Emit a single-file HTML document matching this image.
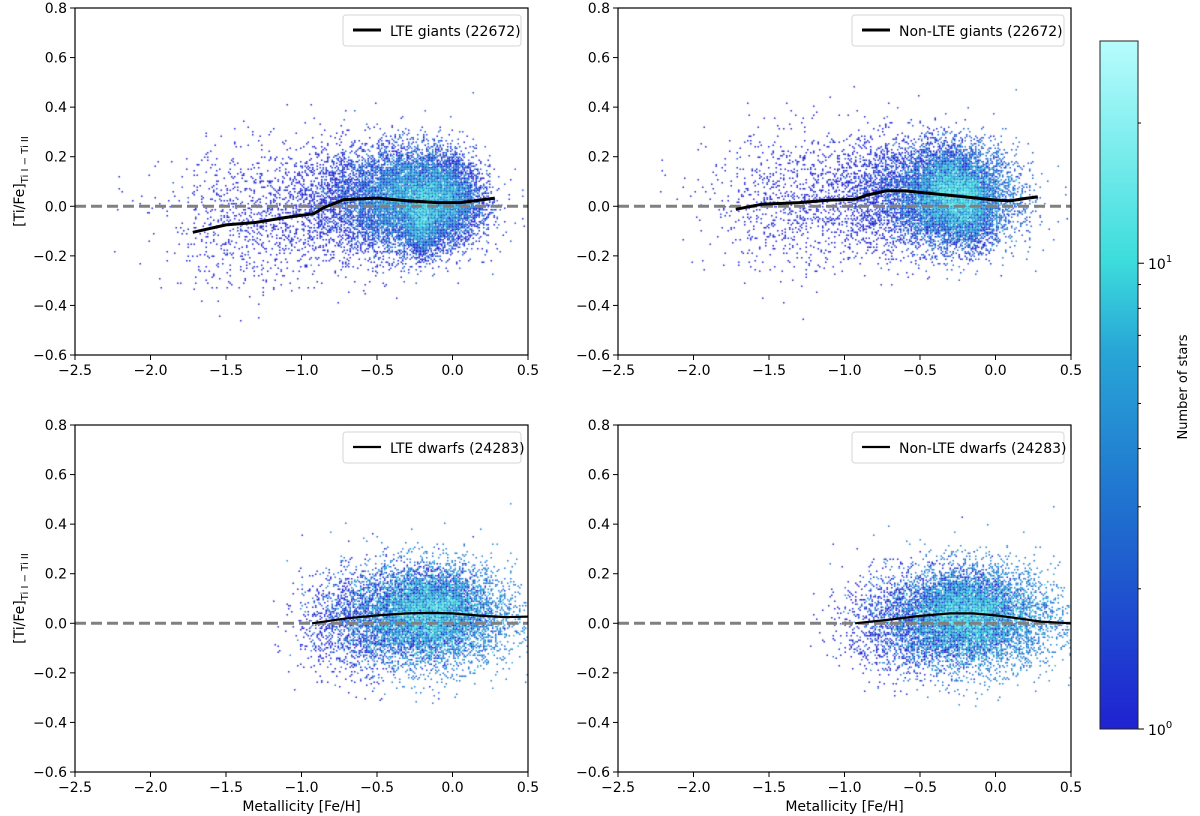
<!DOCTYPE html>
<html><head><meta charset="utf-8">
<style>
html,body{margin:0;padding:0;background:#fff;}
#root{position:relative;width:1200px;height:816px;overflow:hidden;font-family:"DejaVu Sans","Liberation Sans",sans-serif;}
canvas{position:absolute;}
svg{position:absolute;left:0;top:0;}
</style></head>
<body>
<div id="root">
<svg id="svg" width="1200" height="816">
  <defs>
    <linearGradient id="cmap" x1="0" y1="1" x2="0" y2="0">
      <stop offset="0" stop-color="#1f22d0"/>
      <stop offset="0.3" stop-color="#1f6ccf"/>
      <stop offset="0.55" stop-color="#28a6d6"/>
      <stop offset="0.68" stop-color="#3cdcdc"/>
      <stop offset="1" stop-color="#b8fcfd"/>
    </linearGradient>
  </defs>
</svg>
</div>
<script>
// ---- data ----
const xTicks = [-2.5, -2.0, -1.5, -1.0, -0.5, 0.0, 0.5];
const yTicks = [-0.6, -0.4, -0.2, 0.0, 0.2, 0.4, 0.6, 0.8];
const panelNames = ["lte-giants", "nlte-giants", "lte-dwarfs", "nlte-dwarfs"];
const legendLabels = ["LTE giants (22672)", "Non-LTE giants (22672)", "LTE dwarfs (24283)", "Non-LTE dwarfs (24283)"];
const medianX0 = [-1.72,-1.5,-1.3,-1.1,-0.92,-0.85,-0.72,-0.5,-0.3,-0.1,0.05,0.15,0.28];
const medianY0 = [-0.105,-0.075,-0.065,-0.045,-0.03,-0.005,0.027,0.033,0.022,0.015,0.015,0.022,0.033];
const medianX1 = [-1.72,-1.55,-1.3,-1.1,-0.93,-0.85,-0.72,-0.6,-0.4,-0.2,0.0,0.1,0.2,0.28];
const medianY1 = [-0.012,0.008,0.015,0.025,0.028,0.045,0.063,0.062,0.05,0.038,0.025,0.022,0.032,0.038];
const medianX2 = [-0.93,-0.7,-0.5,-0.3,-0.15,0.0,0.2,0.35,0.5];
const medianY2 = [0.0,0.02,0.032,0.04,0.042,0.04,0.03,0.025,0.027];
const medianX3 = [-0.93,-0.7,-0.5,-0.3,-0.15,0.0,0.15,0.3,0.5];
const medianY3 = [0.0,0.015,0.03,0.04,0.04,0.032,0.02,0.007,0.0];
// star cloud components per panel: centre x, centre y, sigma x, sigma y, count
const cloudCx0 = [-0.25,-0.6,-1.3,-0.2,-0.05];  const cloudCy0 = [0.03,0.02,-0.05,-0.08,0.02];
const cloudSx0 = [0.2,0.25,0.3,0.05,0.12];      const cloudSy0 = [0.1,0.11,0.14,0.06,0.08];
const cloudN0  = [12000,3000,900,1300,3500];
const cloudCx1 = [-0.25,-0.6,-1.3,-0.15,-0.3];  const cloudCy1 = [0.04,0.05,0.02,-0.02,0.05];
const cloudSx1 = [0.2,0.25,0.3,0.06,0.1];       const cloudSy1 = [0.1,0.11,0.14,0.07,0.08];
const cloudN1  = [12000,3000,900,1200,3800];
const cloudCx2 = [-0.15,-0.6,-0.15];            const cloudCy2 = [0.03,0.0,0.05];
const cloudSx2 = [0.28,0.2,0.15];               const cloudSy2 = [0.105,0.1,0.07];
const cloudN2  = [18000,1500,4500];
const cloudCx3 = [-0.15,-0.6,-0.2];             const cloudCy3 = [0.02,0.0,0.04];
const cloudSx3 = [0.28,0.2,0.15];               const cloudSy3 = [0.105,0.1,0.07];
const cloudN3  = [18000,1500,4500];
const cbTicksMajor = [1, 10];
const cbMinor = [2,3,4,5,6,7,8,9,20];
const cbMax = 30;

// ---- layout ----
const panels = [
  {l:75,t:8,w:453,h:347},{l:618,t:8,w:453,h:347},
  {l:75,t:425,w:453,h:347},{l:618,t:425,w:453,h:347}];
const medX=[medianX0,medianX1,medianX2,medianX3], medY=[medianY0,medianY1,medianY2,medianY3];
const cl=[[cloudCx0,cloudCy0,cloudSx0,cloudSy0,cloudN0],[cloudCx1,cloudCy1,cloudSx1,cloudSy1,cloudN1],
          [cloudCx2,cloudCy2,cloudSx2,cloudSy2,cloudN2],[cloudCx3,cloudCy3,cloudSx3,cloudSy3,cloudN3]];
const svg=document.getElementById('svg'), root=document.getElementById('root');
const NS='http://www.w3.org/2000/svg';
function mk(tag,attrs,parent){const e=document.createElementNS(NS,tag);for(const k in attrs)e.setAttribute(k,attrs[k]);(parent||svg).appendChild(e);return e;}
function cmap(t){
  const st=[[0,[31,34,208]],[0.3,[31,108,207]],[0.55,[40,166,214]],[0.68,[60,220,220]],[1,[184,252,253]]];
  t=Math.max(0,Math.min(1,t));
  for(let i=1;i<st.length;i++){if(t<=st[i][0]){const a=st[i-1],b=st[i],f=(t-a[0])/(b[0]-a[0]);
    return 'rgb('+a[1].map((v,j)=>Math.round(v+(b[1][j]-v)*f)).join(',')+')';}}
  return 'rgb(184,252,253)';
}
let seed=12345;
function rnd(){seed=(seed*1103515245+12345)%2147483648;return (seed+0.5)/2147483648;}
function gauss(){return Math.sqrt(-2*Math.log(rnd()))*Math.cos(2*Math.PI*rnd());}

panels.forEach((p,i)=>{
  const xs=v=>p.l+(v+2.5)/3*p.w, ys=v=>p.t+(0.8-v)/1.4*p.h;
  // density cloud
  const cv=document.createElement('canvas');
  cv.width=p.w;cv.height=p.h;cv.style.left=p.l+'px';cv.style.top=p.t+'px';
  
  
  root.insertBefore(cv,svg);
  const ctx=cv.getContext('2d');
  const B=1.5,nx=Math.ceil(p.w/B),ny=Math.ceil(p.h/B),grid=new Float32Array(nx*ny);
  const c=cl[i];
  for(let k=0;k<c[0].length;k++){
    for(let n=0;n<c[4][k];n++){
      const x=c[0][k]+c[2][k]*gauss(), y=c[1][k]+c[3][k]*gauss();
      if(x<-2.5||x>0.5||y<-0.6||y>0.8)continue;
      const bx=Math.floor((xs(x)-p.l)/B), by=Math.floor((ys(y)-p.t)/B);
      if(bx>=0&&bx<nx&&by>=0&&by<ny)grid[by*nx+bx]++;
    }
  }
  for(let by=0;by<ny;by++)for(let bx=0;bx<nx;bx++){const v=grid[by*nx+bx];if(!v)continue;
    ctx.fillStyle=cmap(Math.log10(v)/Math.log10(cbMax));ctx.fillRect(bx*B,by*B,B,B);}
  const g=mk('g',{});
  
  
  // zero line
  const z=mk('line',{x1:p.l,x2:p.l+p.w,y1:ys(0),y2:ys(0),stroke:'#808080','stroke-width':3,'stroke-dasharray':'11,5'},g);
  
  
  // median line
  const pts=medX[i].map((v,j)=>xs(v).toFixed(1)+','+ys(medY[i][j]).toFixed(1)).join(' ');
  const ml=mk('polyline',{points:pts,fill:'none',stroke:'#000','stroke-width':i<2?3:2.2,'stroke-linejoin':'round'},g);
  
  
  // frame
  mk('rect',{x:p.l,y:p.t,width:p.w,height:p.h,fill:'none',stroke:'#000','stroke-width':1.2},g);
  // ticks
  xTicks.forEach(v=>{const x=xs(v);mk('line',{x1:x,x2:x,y1:p.t+p.h,y2:p.t+p.h+5,stroke:'#000'},g);
    const t=mk('text',{x:x,y:p.t+p.h+20,'text-anchor':'middle','font-size':14,fill:'#000'},g);
    t.textContent=(v<0?'\u2212':'')+Math.abs(v).toFixed(1);
    
    });
  yTicks.forEach(v=>{const y=ys(v);mk('line',{x1:p.l-5,x2:p.l,y1:y,y2:y,stroke:'#000'},g);
    const t=mk('text',{x:p.l-8,y:y+5,'text-anchor':'end','font-size':14,fill:'#000'},g);
    t.textContent=(v<0?'\u2212':'')+Math.abs(v).toFixed(1);
    
    });
  // legend
  const lw=i==0?178:i==1?212:i==2?178:212;
  const lx=p.l+p.w-lw-7, ly=p.t+7;
  const lg=mk('g',{},g);
  
  
  mk('rect',{x:lx,y:ly,width:lw,height:31,rx:3,fill:'#fff','fill-opacity':0.85,stroke:'#d6d6d6'},lg);
  mk('line',{x1:lx+10,x2:lx+38,y1:ly+15,y2:ly+15,stroke:'#000','stroke-width':i<2?3:2.2},lg);
  const lt=mk('text',{x:lx+47,y:ly+21,'font-size':14,fill:'#000'},lg);lt.textContent=legendLabels[i];
  // axis labels
  if(i%2==0){const yl=mk('text',{x:0,y:0,'font-size':14,'text-anchor':'middle',transform:`translate(24,${p.t+p.h/2}) rotate(-90)`},g);
    yl.innerHTML='[Ti/Fe]<tspan font-size="10" dy="4">Ti I \u2212 Ti II</tspan>';
    
    }
  if(i>=2){const xl=mk('text',{x:p.l+p.w/2,y:811,'font-size':14,'text-anchor':'middle'},g);xl.textContent='Metallicity [Fe/H]';
    
    }
});
// colorbar
const cb={l:1100,t:41,w:38,h:688};
const cby=v=>cb.t+cb.h-Math.log10(v)/Math.log10(cbMax)*cb.h;
const cg=mk('g',{});


mk('rect',{x:cb.l,y:cb.t,width:cb.w,height:cb.h,fill:'url(#cmap)',stroke:'#222','stroke-width':1},cg);
cbMinor.forEach(v=>{const y=cby(v);mk('line',{x1:cb.l+cb.w,x2:cb.l+cb.w+3,y1:y,y2:y,stroke:'#000'},cg);});
cbTicksMajor.forEach((v,k)=>{const y=cby(v);mk('line',{x1:cb.l+cb.w,x2:cb.l+cb.w+6,y1:y,y2:y,stroke:'#000'},cg);
  const t=mk('text',{x:cb.l+cb.w+10,y:y+6,'font-size':14},cg);t.innerHTML='10<tspan font-size="10" dy="-7">'+k+'</tspan>';
  
  });
const ct=mk('text',{x:0,y:0,'font-size':13,'text-anchor':'middle',transform:'translate(1187,387) rotate(-90)'},cg);
ct.textContent='Number of stars';


</script>
</body></html>
